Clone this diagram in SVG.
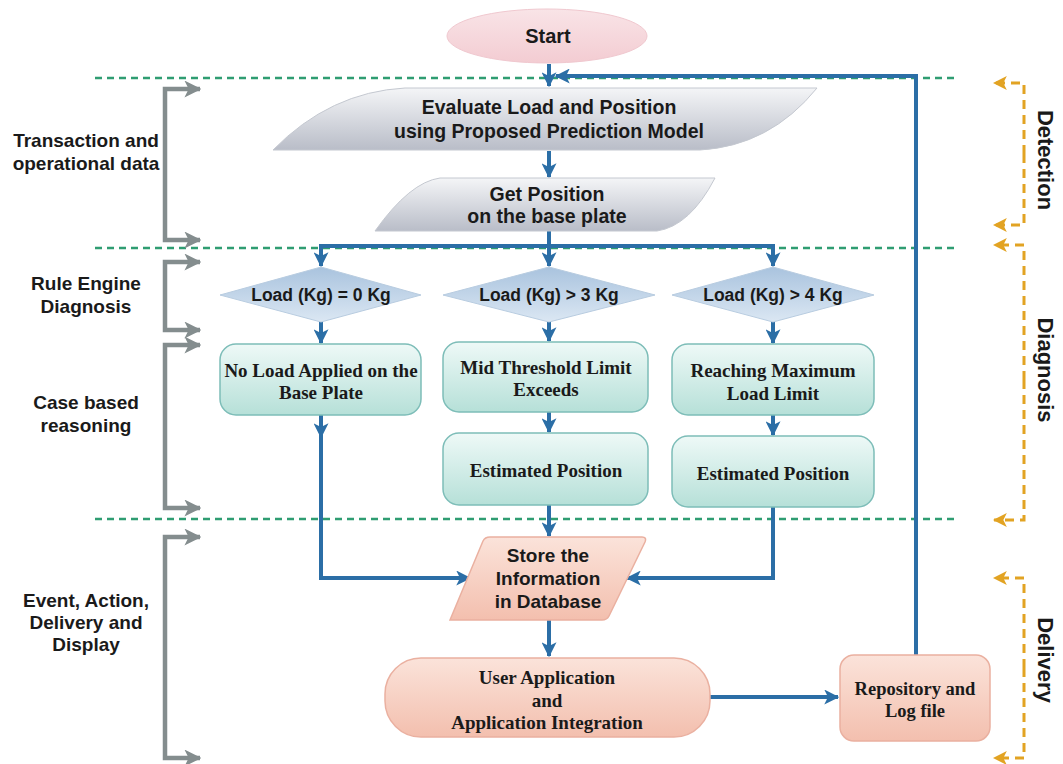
<svg xmlns="http://www.w3.org/2000/svg" width="1063" height="764" viewBox="0 0 1063 764">
<style>
.sans{font-family:"Liberation Sans",Arial,sans-serif;font-weight:bold;fill:#1a1a1a;text-anchor:middle}
.serif{font-family:"Liberation Serif","Times New Roman",serif;font-weight:bold;fill:#1a1a1a;text-anchor:middle}
.blue{fill:none;stroke:#2b6ea6;stroke-width:4;marker-end:url(#ab)}
.gray{fill:none;stroke:#848d8e;stroke-width:4.5;marker-end:url(#ag)}
.green{fill:none;stroke:#2f9d72;stroke-width:2.5;stroke-dasharray:7 5}
.orange{fill:none;stroke:#e2a323;stroke-width:3;stroke-dasharray:9 6;marker-end:url(#ao)}
.teal{fill:url(#gt);stroke:#7dbdb8;stroke-width:1.5}
.pink{fill:url(#gp);stroke:#eab0a0;stroke-width:1.5}
.grayshape{fill:url(#gg);stroke:#c4c8d0;stroke-width:1}
.dia{fill:url(#gd);stroke:#b8cce0;stroke-width:1}
</style>
<defs>
<marker id="ab" viewBox="0 0 12 12" refX="11" refY="6" markerWidth="15" markerHeight="15" markerUnits="userSpaceOnUse" orient="auto"><path d="M0,0 L12,6 L0,12 L3,6 z" fill="#2b6ea6"/></marker>
<marker id="ag" viewBox="0 0 12 12" refX="11" refY="6" markerWidth="17" markerHeight="17" markerUnits="userSpaceOnUse" orient="auto"><path d="M0,0 L12,6 L0,12 L3,6 z" fill="#848d8e"/></marker>
<marker id="ao" viewBox="0 0 12 12" refX="11" refY="6" markerWidth="14" markerHeight="14" markerUnits="userSpaceOnUse" orient="auto"><path d="M0,0 L12,6 L0,12 L3,6 z" fill="#e2a323"/></marker>
<linearGradient id="gt" x1="0" y1="0" x2="0" y2="1"><stop offset="0" stop-color="#eef9f7"/><stop offset="1" stop-color="#b6e0d8"/></linearGradient>
<linearGradient id="gp" x1="0" y1="0" x2="0" y2="1"><stop offset="0" stop-color="#fbe3da"/><stop offset="1" stop-color="#f3bfae"/></linearGradient>
<linearGradient id="gg" x1="0" y1="0" x2="0" y2="1"><stop offset="0" stop-color="#f4f5f7"/><stop offset="1" stop-color="#b9bdc8"/></linearGradient>
<linearGradient id="gd" x1="0" y1="0" x2="0" y2="1"><stop offset="0" stop-color="#a9c3de"/><stop offset="1" stop-color="#dbe7f3"/></linearGradient>
<linearGradient id="gs" x1="0" y1="0" x2="0" y2="1"><stop offset="0" stop-color="#f9e4e7"/><stop offset="1" stop-color="#f3ccd2"/></linearGradient>
</defs>

<g id="lanes">
<line class="green" x1="95" y1="78" x2="958" y2="78"/>
<line class="green" x1="95" y1="248" x2="958" y2="248"/>
<line class="green" x1="95" y1="519" x2="958" y2="519"/>
</g>

<g id="left-brackets">
<path class="gray" d="M165,164 V89 H200"/><path class="gray" d="M165,164 V240 H200"/>
<path class="gray" d="M165,296 V262 H200"/><path class="gray" d="M165,296 V330 H200"/>
<path class="gray" d="M165,426 V345 H200"/><path class="gray" d="M165,426 V508 H200"/>
<path class="gray" d="M165,640 V537 H200"/><path class="gray" d="M165,640 V758 H200"/>
<text class="sans" font-size="19" x="86" y="147">Transaction and</text>
<text class="sans" font-size="19" x="86" y="170">operational data</text>
<text class="sans" font-size="19" x="86" y="290">Rule Engine</text>
<text class="sans" font-size="19" x="86" y="313">Diagnosis</text>
<text class="sans" font-size="19" x="86" y="409">Case based</text>
<text class="sans" font-size="19" x="86" y="432">reasoning</text>
<text class="sans" font-size="19" x="86" y="607">Event, Action,</text>
<text class="sans" font-size="19" x="86" y="629">Delivery and</text>
<text class="sans" font-size="19" x="86" y="651">Display</text>
</g>

<g id="right-brackets">
<path class="orange" d="M1024,154 V83 H994"/><path class="orange" d="M1024,154 V225 H994"/>
<path class="orange" d="M1024,380 V245 H994"/><path class="orange" d="M1024,380 V520 H994"/>
<path class="orange" d="M1024,668 V578 H994"/><path class="orange" d="M1024,668 V758 H994"/>
<text class="sans" font-size="22" transform="translate(1038,160) rotate(90)">Detection</text>
<text class="sans" font-size="22" transform="translate(1038,370) rotate(90)">Diagnosis</text>
<text class="sans" font-size="22" transform="translate(1038,660) rotate(90)">Delivery</text>
</g>

<g id="connectors">
<path class="blue" d="M549,64 V86"/>
<path class="blue" d="M916,655 V76 H556"/>
<path class="blue" d="M549,151 V177"/>
<path class="blue" d="M549,231 V246 H321 V266"/>
<path class="blue" d="M549,246 H773 V266"/>
<path class="blue" d="M549,246 V266"/>
<path class="blue" d="M321,322 V343"/>
<path class="blue" d="M549,322 V341"/>
<path class="blue" d="M773,322 V343"/>
<path class="blue" d="M549,412 V432"/>
<path class="blue" d="M773,415 V435"/>
<path class="blue" d="M321,415 V437"/>
<path class="blue" d="M321,430 V578 H470"/>
<path class="blue" d="M773,507 V578 H627"/>
<path class="blue" d="M549,505 V536"/>
<path class="blue" d="M549,620 V656"/>
<path class="blue" d="M710,697 H838"/>
</g>

<g id="start">
<ellipse cx="547" cy="36" rx="100" ry="27" fill="url(#gs)" stroke="#f0c8cf" stroke-width="1"/>
<text class="sans" font-size="20" x="548" y="43">Start</text>
</g>

<g id="evaluate">
<path class="grayshape" d="M273,150 Q330,92 405,88 L817,88 Q770,146 700,150 Z"/>
<text class="sans" font-size="19.5" x="549" y="114">Evaluate Load and Position</text>
<text class="sans" font-size="19.5" x="549" y="138">using Proposed Prediction Model</text>
</g>

<g id="get-position">
<path class="grayshape" d="M375,231 Q410,182 440,178 L715,178 Q690,226 657,231 Z"/>
<text class="sans" font-size="19.5" x="547" y="201">Get Position</text>
<text class="sans" font-size="19.5" x="547" y="223">on the base plate</text>
</g>

<g id="d1">
<polygon class="dia" points="220,295 321,267 421,295 321,322"/>
<text class="sans" font-size="17.5" x="321" y="301">Load (Kg) = 0 Kg</text>
</g>
<g id="d2">
<polygon class="dia" points="443,295 549,267 655,295 549,322"/>
<text class="sans" font-size="17.5" x="549" y="301">Load (Kg) &gt; 3 Kg</text>
</g>
<g id="d3">
<polygon class="dia" points="672,295 773,267 874,295 773,322"/>
<text class="sans" font-size="17.5" x="773" y="301">Load (Kg) &gt; 4 Kg</text>
</g>

<g id="no-load">
<rect class="teal" x="220" y="344" width="201" height="71" rx="16"/>
<text class="serif" font-size="19" x="321" y="377">No Load Applied on the</text>
<text class="serif" font-size="19" x="321" y="399">Base Plate</text>
</g>
<g id="mid-threshold">
<rect class="teal" x="443" y="342" width="205" height="70" rx="16"/>
<text class="serif" font-size="19" x="546" y="374">Mid Threshold Limit</text>
<text class="serif" font-size="19" x="546" y="396">Exceeds</text>
</g>
<g id="max-load">
<rect class="teal" x="672" y="344" width="202" height="71" rx="16"/>
<text class="serif" font-size="19" x="773" y="377">Reaching Maximum</text>
<text class="serif" font-size="19" x="773" y="400">Load Limit</text>
</g>
<g id="est1">
<rect class="teal" x="443" y="433" width="205" height="72" rx="16"/>
<text class="serif" font-size="19" x="546" y="477">Estimated Position</text>
</g>
<g id="est2">
<rect class="teal" x="672" y="436" width="202" height="71" rx="16"/>
<text class="serif" font-size="19" x="773" y="480">Estimated Position</text>
</g>

<g id="store">
<path class="pink" d="M450,620 L483,541 Q485,537 490,537 L642,537 Q647,537 645,542 L609,616 Q607,620 602,620 Z"/>
<text class="sans" font-size="19" x="548" y="562">Store the</text>
<text class="sans" font-size="19" x="548" y="585">Information</text>
<text class="sans" font-size="19" x="548" y="608">in Database</text>
</g>

<g id="user-app">
<rect class="pink" x="385" y="658" width="325" height="79" rx="36"/>
<text class="serif" font-size="19" x="547" y="684">User Application</text>
<text class="serif" font-size="19" x="547" y="707">and</text>
<text class="serif" font-size="19" x="547" y="729">Application Integration</text>
</g>

<g id="repository">
<rect class="pink" x="840" y="655" width="150" height="86" rx="14"/>
<text class="serif" font-size="18.5" x="915" y="695">Repository and</text>
<text class="serif" font-size="18.5" x="915" y="717">Log file</text>
</g>
</svg>
